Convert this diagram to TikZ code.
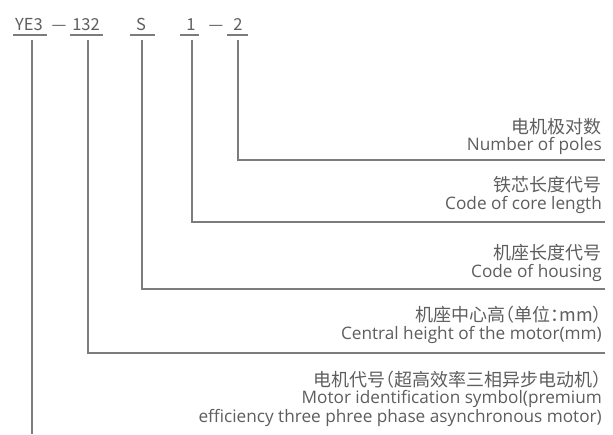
\documentclass[tikz,border=0pt]{standalone}
\usepackage{fontspec}
\setmainfont{Open Sans}
\newfontfamily\cjk[RawFeature=+halt]{Noto Sans CJK SC}
\definecolor{txt}{HTML}{5E5E5E}
\definecolor{ln}{HTML}{7C7C7C}
\begin{document}
\begin{tikzpicture}[x=1pt,y=-1pt,
  lead/.style={draw=ln,line width=1.7pt},
  uline/.style={draw=ln,line width=1.2pt},
  lbl/.style={anchor=base east,inner sep=0pt,text=txt,font=\fontsize{17.2}{20}\selectfont},
  cnlbl/.style={anchor=base east,inner sep=0pt,text=txt,font=\cjk\fontsize{18}{20}\selectfont},
  code/.style={anchor=base,inner sep=0pt,text=txt,font=\cjk\fontsize{16.5}{18}\selectfont}]
\useasboundingbox (0,0) rectangle (613,434);
\fill[white] (0,0) rectangle (613,434);
% header code
\node[code] (ye3) at (29,30) {YE3};
\node[code] (d1) at (59,30) {—};
\node[code] (n132) at (86,30) {132};
\node[code] (s) at (141,30) {S};
\node[code] (one) at (191,30) {1};
\node[code] (d2) at (216,30) {—};
\node[code] (two) at (238,30) {2};
\draw[uline] (13,35) -- (47,35);
\draw[uline] (70,35) -- (103,35);
\draw[uline] (130,35) -- (155,35);
\draw[uline] (180,35) -- (199,35);
\draw[uline] (227,35) -- (248,35);
% leads
\coordinate (a1) at (32,40);  \coordinate (b1) at (32,434);
\coordinate (a2) at (88,40);  \coordinate (b2) at (605,353);
\coordinate (a3) at (142,40); \coordinate (b3) at (605,289);
\coordinate (a4) at (192,40); \coordinate (b4) at (605,222);
\coordinate (a5) at (238,40); \coordinate (b5) at (605,160);
\draw[lead] (a1) -- (b1);
\draw[lead] (a2) |- (b2);
\draw[lead] (a3) |- (b3);
\draw[lead] (a4) |- (b4);
\draw[lead] (a5) |- (b5);
% labels
\node[cnlbl] (l5c) at (602,133) {电机极对数};
\node[lbl] (l5e) at (602,150) {Number of poles};
\node[cnlbl] (l4c) at (602,191) {铁芯长度代号};
\node[lbl] (l4e) at (602,209) {Code of core length};
\node[cnlbl] (l3c) at (602,259) {机座长度代号};
\node[lbl] (l3e) at (602,277) {Code of housing};
\node[cnlbl] (l2c) at (602,321) {机座中心高（单位：mm）};
\node[lbl] (l2e) at (602,339) {Central height of the motor(mm)};
\node[cnlbl] (l1c) at (602,386) {电机代号（超高效率三相异步电动机）};
\node[lbl] (l1e) at (602,403) {Motor identification symbol(premium};
\node[lbl] (l1f) at (602,422) {efficiency three phree phase asynchronous motor)};
\end{tikzpicture}
\end{document}
